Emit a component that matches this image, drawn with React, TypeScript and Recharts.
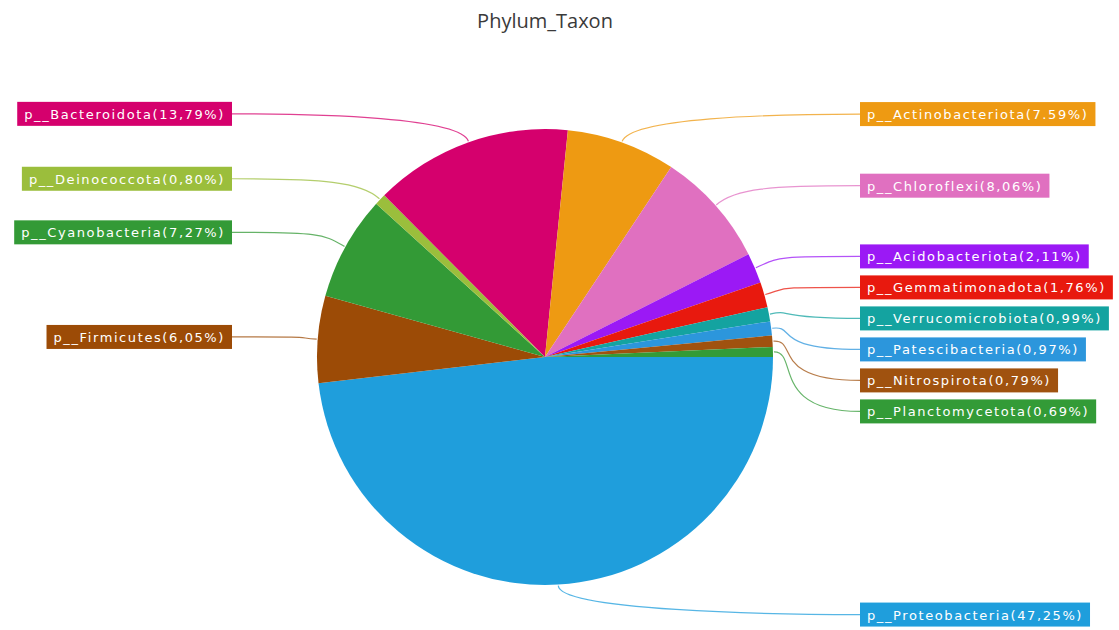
import { Cell, Pie, PieChart } from 'recharts'

const names = [
  'p__Proteobacteria',
  'p__Firmicutes',
  'p__Cyanobacteria',
  'p__Deinococcota',
  'p__Bacteroidota',
  'p__Actinobacteriota',
  'p__Chloroflexi',
  'p__Acidobacteriota',
  'p__Gemmatimonadota',
  'p__Verrucomicrobiota',
  'p__Patescibacteria',
  'p__Nitrospirota',
  'p__Planctomycetota',
]
const values = [47.25, 6.05, 7.27, 0.8, 13.79, 7.59, 8.06, 2.11, 1.76, 0.99, 0.97, 0.79, 0.69]
const percentText = ['47,25', '6,05', '7,27', '0,80', '13,79', '7.59', '8,06', '2,11', '1,76', '0,99', '0,97', '0,79', '0,69']
const COLORS = [
  '#1f9edc', '#9c4b06', '#339a36', '#9bbe3c', '#d5006d', '#ee9a12', '#e070c0',
  '#9b19f5', '#e8190e', '#14a3a0', '#2c96dc', '#a0520f', '#339b37',
]

const W = 1119
const H = 630
const CX = 545
const CY = 357
const R = 228
const LEFT_EDGE = 232
const RIGHT_EDGE = 860
const GAP = 31
const FONT = '13px "DejaVu Sans"'
const SPACING = 1.6

const chartData = names.map((name, i) => ({ name, value: values[i] }))

let ctx: CanvasRenderingContext2D | null = null
function textWidth(s: string) {
  if (!ctx)
    ctx = document.createElement('canvas').getContext('2d')
  if (!ctx)
    return s.length * 8.6
  ctx.font = FONT
  return ctx.measureText(s).width + SPACING * s.length
}

// label layout: radial y, then push overlapping labels down on each side
function buildLayout() {
  const total = values.reduce((a, b) => a + b, 0)
  let acc = 0
  const items = values.map((v, i) => {
    const a0 = (acc / total) * 360
    acc += v
    const a1 = (acc / total) * 360
    const mid = ((a0 + a1) / 2) * Math.PI / 180
    const right = Math.cos(mid) > 0
    return { i, right, y: CY + (R + 30) * Math.sin(mid) }
  })
  for (const side of [true, false]) {
    const group = items.filter(d => d.right === side).sort((a, b) => a.y - b.y)
    for (let k = 1; k < group.length; k++) {
      if (group[k].y < group[k - 1].y + GAP)
        group[k].y = group[k - 1].y + GAP
    }
  }
  const out: { right: boolean, y: number }[] = []
  items.forEach(d => (out[d.i] = { right: d.right, y: d.y }))
  return out
}

const layout = buildLayout()

function renderLabel(props: any) {
  const { cx, cy, midAngle, outerRadius, index } = props
  const rad = -midAngle * Math.PI / 180
  const sx = cx + (outerRadius + 1) * Math.cos(rad)
  const sy = cy + (outerRadius + 1) * Math.sin(rad)
  const { right, y } = layout[index]
  const text = `${names[index]}(${percentText[index]}%)`
  const w = textWidth(text) + 14
  const ex = right ? RIGHT_EDGE : LEFT_EDGE
  const c1x = sx + 25 * Math.cos(rad)
  const c1y = sy + 25 * Math.sin(rad)
  const c2x = right ? ex - 90 : ex + 90
  const boxX = right ? ex : ex - w
  const color = COLORS[index % COLORS.length]
  return (
    <g key={`label-${index}`}>
      <path
        d={`M${sx},${sy} C${c1x},${c1y} ${c2x},${y} ${ex},${y}`}
        fill="none"
        stroke={color}
        strokeOpacity={0.75}
        strokeWidth={1.2}
      />
      <rect x={boxX} y={y - 12} width={w} height={24} fill={color} />
      <text
        x={boxX + w / 2}
        y={y + 5}
        textAnchor="middle"
        fill="#fff"
        style={{ font: FONT, letterSpacing: `${SPACING}px` }}
      >
        {text}
      </text>
    </g>
  )
}

export default function App() {
  return (
    <div style={{ position: 'absolute', left: 0, top: 0, width: W, height: H, background: '#fff' }}>
      <div
        style={{
          position: 'absolute',
          top: 7,
          left: 0,
          width: 1090,
          textAlign: 'center',
          fontFamily: '"Open Sans", sans-serif',
          fontSize: 20,
          color: '#3a3a3a',
        }}
      >
        Phylum_Taxon
      </div>
      <PieChart width={W} height={H} margin={{ top: 0, right: 0, bottom: 0, left: 0 }}>
        <Pie
          data={chartData}
          dataKey="value"
          nameKey="name"
          cx={CX}
          cy={CY}
          outerRadius={R}
          startAngle={0}
          endAngle={-360}
          stroke="none"
          label={renderLabel}
          labelLine={false}
          isAnimationActive={false}
        >
          {chartData.map((_, index) => (
            <Cell key={`cell-${index}`} fill={COLORS[index % COLORS.length]} />
          ))}
        </Pie>
      </PieChart>
    </div>
  )
}
